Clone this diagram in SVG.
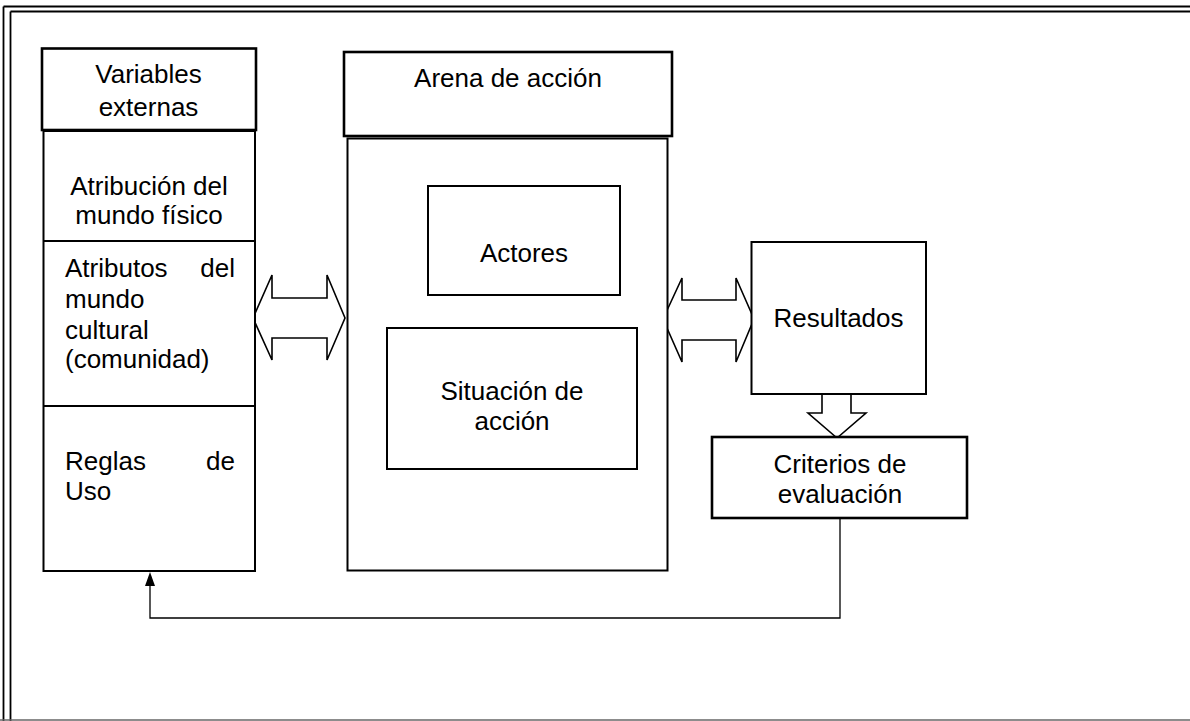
<svg xmlns="http://www.w3.org/2000/svg" width="1190" height="721" viewBox="0 0 1190 721">
<defs>
<style>
.box{fill:#fff;stroke:#000;stroke-width:2}
.hdr{fill:#fff;stroke:#000;stroke-width:2.6}
.arw{fill:#fff;stroke:#000;stroke-width:1.6;stroke-linejoin:miter}
.t{font-family:"Liberation Sans",Arial,sans-serif;font-size:26px;fill:#000}
.c{text-anchor:middle}
.e{text-anchor:end}
.con{fill:none;stroke:#000;stroke-width:1.3}
</style>
<marker id="ah" viewBox="0 0 10 14" refX="5" refY="0" markerWidth="10" markerHeight="14" markerUnits="userSpaceOnUse" orient="auto-start-reverse">
<path d="M5 0 L10 14 L0 14 Z" fill="#000"/>
</marker>
</defs>
<rect width="1190" height="721" fill="#fff"/>
<g id="border" fill="none">
<line x1="3.5" y1="6.5" x2="1190" y2="6.5" stroke="#000" stroke-width="1.8"/>
<line x1="10.5" y1="11.5" x2="1190" y2="11.5" stroke="#000" stroke-width="1.8"/>
<line x1="3.5" y1="6.5" x2="3.5" y2="721" stroke="#000" stroke-width="1.8"/>
<line x1="10.5" y1="11.5" x2="10.5" y2="721" stroke="#000" stroke-width="1.8"/>
<line x1="0" y1="720" x2="1190" y2="720" stroke="#666" stroke-width="1.6"/>
</g>
<g id="connectors">
<path class="con" d="M840 518 V618 H150 V586" />
<path d="M150 572 L155 586 L145 586 Z" fill="#000"/>
<polygon id="arrow-left" class="arw" points="253,318 272,275 272,298 327,298 327,275 345,318 327,360 327,338 272,338 272,360"/>
<polygon id="arrow-right" class="arw" points="663,319 682,278 682,300 736,300 736,278 754,319 736,362 736,340 682,340 682,362"/>
<polygon id="arrow-down" class="arw" points="822,390 851,390 851,413 866,413 837,438 808,413 822,413"/>
</g>
<g id="variables-externas">
<rect class="hdr" x="42" y="48.5" width="214" height="81.5"/>
<text class="t c" x="148.5" y="83">Variables</text>
<text class="t c" x="148.5" y="116">externas</text>
</g>
<g id="columna-externas">
<rect class="box" x="43.5" y="131" width="211.5" height="440"/>
<line x1="43.5" y1="241" x2="255" y2="241" stroke="#000" stroke-width="2"/>
<line x1="43.5" y1="406" x2="255" y2="406" stroke="#000" stroke-width="2"/>
</g>
<g id="mundo-fisico">
<text class="t c" x="149" y="195">Atribución del</text>
<text class="t c" x="149" y="224">mundo físico</text>
</g>
<g id="mundo-cultural">
<text class="t" x="65" y="277">Atributos</text>
<text class="t e" x="235" y="277">del</text>
<text class="t" x="65" y="308">mundo</text>
<text class="t" x="65" y="339">cultural</text>
<text class="t" x="65" y="368">(comunidad)</text>
</g>
<g id="reglas-uso">
<text class="t" x="65" y="470">Reglas</text>
<text class="t e" x="235" y="470">de</text>
<text class="t" x="65" y="500">Uso</text>
</g>
<g id="arena-accion">
<rect class="hdr" x="344" y="52" width="328" height="84"/>
<text class="t c" x="508" y="87">Arena de acción</text>
</g>
<g id="arena-cuerpo">
<rect class="box" x="347.5" y="138.5" width="320" height="432"/>
</g>
<g id="actores">
<rect class="box" x="428" y="186" width="192" height="109"/>
<text class="t c" x="524" y="262">Actores</text>
</g>
<g id="situacion-accion">
<rect class="box" x="387" y="328" width="250" height="141"/>
<text class="t c" x="512" y="400">Situación de</text>
<text class="t c" x="512" y="430">acción</text>
</g>
<g id="resultados">
<rect class="box" x="751.5" y="242" width="174.5" height="152"/>
<text class="t c" x="838.5" y="327">Resultados</text>
</g>
<g id="criterios">
<rect class="hdr" x="712" y="437" width="255" height="81"/>
<text class="t c" x="840" y="473">Criterios de</text>
<text class="t c" x="840" y="503">evaluación</text>
</g>
</svg>
